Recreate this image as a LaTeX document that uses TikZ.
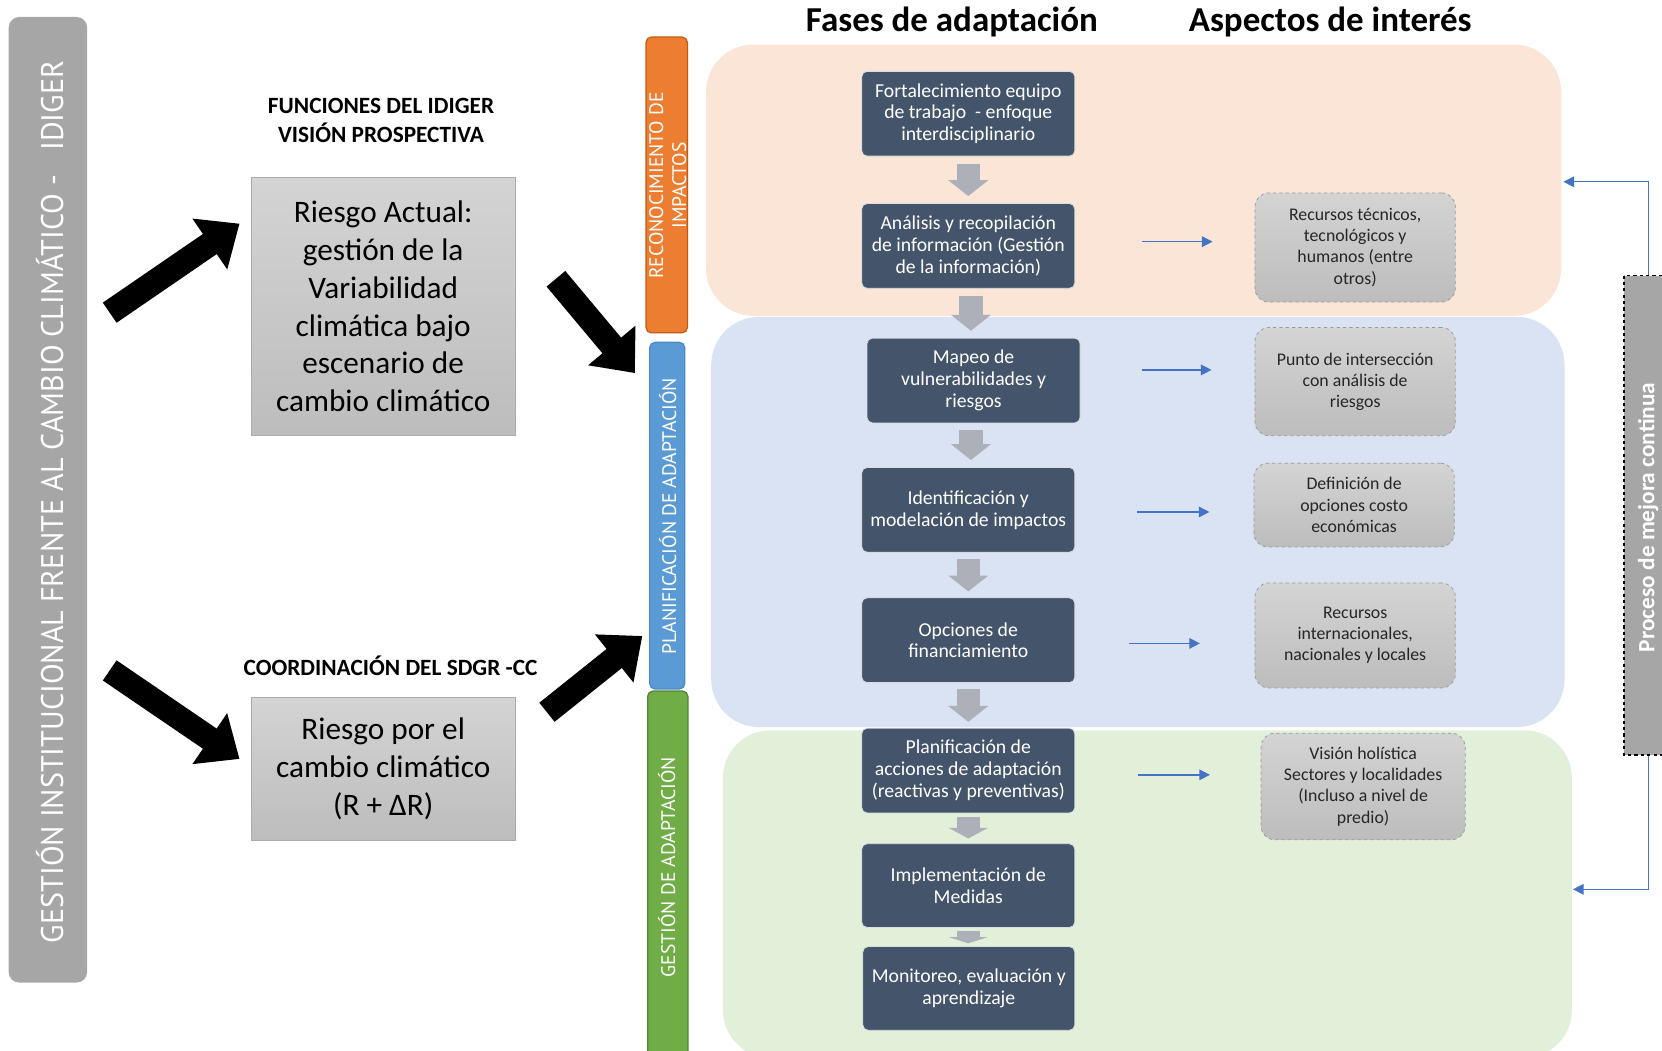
\documentclass[tikz,border=0pt]{standalone}
\usepackage{fontspec}
\setmainfont{Carlito}
\newfontfamily\barfont{PT Sans}
\usetikzlibrary{arrows.meta}
\definecolor{slate}{HTML}{44546A}
\definecolor{regO}{HTML}{FBE5D6}
\definecolor{regB}{HTML}{DAE3F3}
\definecolor{regG}{HTML}{E2F0D9}
\definecolor{barO}{HTML}{ED7D31}
\definecolor{barOd}{HTML}{C55A11}
\definecolor{barB}{HTML}{5B9BD5}
\definecolor{barBd}{HTML}{4A89C8}
\definecolor{barG}{HTML}{70AD47}
\definecolor{barGd}{HTML}{548235}
\definecolor{lgray}{HTML}{A6A6A6}
\definecolor{blkarrow}{HTML}{ADB0B8}
\definecolor{blueln}{HTML}{4472C4}
\definecolor{txt}{HTML}{262626}
\begin{document}
\begin{tikzpicture}[x=1pt,y=-1pt,
  region/.style={inner sep=0pt, outer sep=0pt, rounded corners=45pt},
  phasebar/.style={inner sep=0pt, outer sep=0pt, rounded corners=5pt, line width=1.2pt},
  bartext/.style={rotate=90, text=white, align=center, font=\barfont\fontsize{18.5}{21.5}\selectfont},
  darkbox/.style={draw=white!80!slate, line width=0.8pt, fill=slate, rounded corners=5pt,
     text=white, align=center, inner sep=0pt, outer sep=0pt, minimum width=201pt, minimum height=80pt,
     font=\fontsize{18.6}{20.7}\selectfont},
  graybox/.style={draw=black!40, dashed, line width=0.7pt, rounded corners=13pt,
     top color=black!17, bottom color=black!26, align=center, text=txt,
     inner sep=0pt, outer sep=0pt, minimum width=189pt, font=\fontsize{16.8}{20}\selectfont},
  riskbox/.style={draw=black!33, line width=0.8pt, top color=black!17, bottom color=black!26,
     align=center, text=black, inner sep=0pt, outer sep=0pt, minimum width=249pt,
     font=\fontsize{29.5}{35.8}\selectfont},
  blockarrow/.style={draw=blkarrow, line width=22pt, -{Triangle[length=#1,width=37pt]}},
  blockarrow/.default=15pt,
  bigarrow/.style={draw=black, line width=23pt, -{Triangle[length=34pt,width=56pt]}},
  bluearrow/.style={draw=blueln, line width=1.3pt, -{Triangle[length=10pt,width=10pt]}},
  heading/.style={font=\bfseries\fontsize{33}{40}\selectfont, text=black, anchor=base},
  subhead/.style={font=\bfseries\fontsize{22}{27.5}\selectfont, text=black, align=center}
]
\useasboundingbox (0,0) rectangle (1568,991);
\begin{scope}
\clip (0,0) rectangle (1568,991);

% background regions
\node[region, fill=regO, minimum width=807pt, minimum height=256pt] (rO) at (1069.5,170) {};
\node[region, fill=regB, minimum width=805pt, minimum height=387pt] (rB) at (1073.5,492.5) {};
\node[region, fill=regG, minimum width=801pt, minimum height=309pt] (rG) at (1082.5,843.5) {};

% headings
\node[heading] (h1) at (898,30) {Fases de adaptación};
\node[heading] (h2) at (1255,30) {Aspectos de interés};

% left institutional bar
\node[fill=lgray, rounded corners=10pt, inner sep=0pt, minimum width=74pt, minimum height=911pt] (lb) at (45.2,471.5) {};
\node[rotate=90, text=white, font=\barfont\fontsize{29.5}{30}\selectfont] (lbt) at (47,473.5)
  {\scalebox{0.965}[1]{GESTIÓN INSTITUCIONAL FRENTE AL CAMBIO CLIMÁTICO -\ \ \ IDIGER}};

% sub-headings and risk boxes
\node[subhead] (s1) at (359.5,114) {FUNCIONES DEL IDIGER\\VISIÓN PROSPECTIVA};
\node[subhead] (s2) at (368.5,628) {COORDINACIÓN DEL SDGR -CC};
\node[riskbox, minimum height=244pt] (ra) at (361.5,289)
  {Riesgo Actual:\\gestión de la\\Variabilidad\\climática bajo\\escenario de\\cambio climático};
\node[riskbox, minimum height=135pt] (rc) at (361.5,725.5)
  {Riesgo por el\\cambio climático\\(R + ΔR)};

% phase bars
\node[phasebar, fill=barO, draw=barOd, minimum width=39pt, minimum height=279pt] (pO) at (629,174.5) {};
\node[bartext] (pOt) at (630,175) {RECONOCIMIENTO DE\\IMPACTOS};
\node[phasebar, fill=barB, draw=barBd, minimum width=33pt, minimum height=327pt] (pB) at (629.5,486.5) {};
\node[bartext] (pBt) at (630,487) {PLANIFICACIÓN DE ADAPTACIÓN};
\node[phasebar, fill=barG, draw=barGd, minimum width=38pt, minimum height=345pt] (pG) at (630,824.5) {};
\node[bartext] (pGt) at (629,818) {GESTIÓN DE ADAPTACIÓN};

% big black arrows
\coordinate (k1a) at (103.5,295);  \coordinate (k1b) at (226,211);
\coordinate (k2a) at (524.5,263);  \coordinate (k2b) at (599,352);
\coordinate (k3a) at (103.5,632.5);\coordinate (k3b) at (226,716);
\coordinate (k4a) at (516,672);    \coordinate (k4b) at (606,600);
\draw[bigarrow] (k1a) -- (k1b);
\draw[bigarrow] (k2a) -- (k2b);
\draw[bigarrow] (k3a) -- (k3b);
\draw[bigarrow] (k4a) -- (k4b);

% phase boxes
\node[darkbox] (b1) at (913.5,107.3) {Fortalecimiento equipo\\de trabajo\ \ - enfoque\\interdisciplinario};
\node[darkbox] (b2) at (913.5,232) {Análisis y recopilación\\de información (Gestión\\de la información)};
\node[darkbox] (b3) at (918.5,359) {Mapeo de\\vulnerabilidades y\\riesgos};
\node[darkbox] (b4) at (913.5,481) {Identificación y\\modelación de impactos};
\node[darkbox] (b5) at (913.5,604) {Opciones de\\financiamiento};
\node[darkbox] (b6) at (913.5,727) {Planificación de\\acciones de adaptación\\(reactivas y preventivas)};
\node[darkbox, minimum height=79pt] (b7) at (913.5,835.5) {Implementación de\\Medidas};
\node[darkbox, minimum width=200pt, minimum height=79pt] (b8) at (914,932.5) {Monitoreo, evaluación y\\aprendizaje};

% gray step arrows
\draw[blockarrow, shorten <=7pt, shorten >=7pt] (b1.south) -- (b1.south |- b2.north);
\draw[blockarrow, shorten <=7pt, shorten >=7pt] ([xshift=2.5pt]b2.south) -- ([xshift=-2.5pt]b3.north);
\draw[blockarrow, shorten <=7pt, shorten >=7pt] ([xshift=-2.5pt]b3.south) -- ([xshift=2.5pt]b4.north);
\draw[blockarrow, shorten <=6pt, shorten >=6pt] (b4.south) -- (b5.north);
\draw[blockarrow, shorten <=6pt, shorten >=6pt] (b5.south) -- (b6.north);
\draw[blockarrow=10pt, shorten <=4pt, shorten >=5pt] (b6.south) -- (b7.north);
\draw[blockarrow=6pt, shorten <=3pt, shorten >=3pt] (b7.south) -- (b7.south |- b8.north);

% aspects boxes
\node[graybox, minimum height=103pt] (g1) at (1278.5,233.5) {Recursos técnicos,\\tecnológicos y\\humanos (entre\\otros)};
\node[graybox, minimum height=102pt] (g2) at (1278.5,360) {Punto de intersección\\con análisis de\\riesgos};
\node[graybox, minimum height=79pt] (g3) at (1277.5,476.5) {Definición de\\opciones costo\\económicas};
\node[graybox, minimum height=99pt] (g4) at (1278.5,599.5) {Recursos\\internacionales,\\nacionales y locales};
\node[graybox, minimum width=192.5pt, minimum height=100.5pt] (g5) at (1286,742) {Visión holística\\Sectores y localidades\\(Incluso a nivel de\\predio)};

% blue arrows
\coordinate (a1s) at (1077,228);   \coordinate (a1e) at (1144,228);
\coordinate (a2s) at (1077,349);   \coordinate (a2e) at (1143,349);
\coordinate (a3s) at (1073,483);   \coordinate (a3e) at (1141,483);
\coordinate (a4s) at (1065,607);   \coordinate (a4e) at (1132,607);
\coordinate (a5s) at (1073.5,731); \coordinate (a5e) at (1141.5,731);
\draw[bluearrow] (a1s) -- (a1e);
\draw[bluearrow] (a2s) -- (a2e);
\draw[bluearrow] (a3s) -- (a3e);
\draw[bluearrow] (a4s) -- (a4e);
\draw[bluearrow] (a5s) -- (a5e);

% continuous improvement
\node[rotate=90, fill=lgray, draw=black, dashed, line width=1.6pt, inner sep=0pt,
      minimum width=452pt, minimum height=46pt, text=white,
      font=\bfseries\fontsize{22}{26}\selectfont] (pm) at (1555,486) {\hspace*{-4pt}Proceso de mejora continua};
\coordinate (fbT) at (1475,171.5);
\coordinate (fbB) at (1484,839);
\draw[bluearrow] (pm.east) |- (fbT);
\draw[bluearrow] (pm.west) |- (fbB);
\end{scope}
\end{tikzpicture}
\end{document}
